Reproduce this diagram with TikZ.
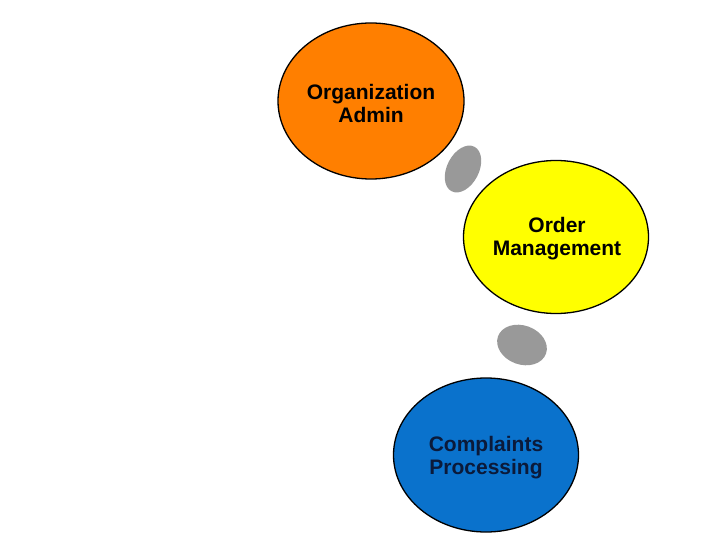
\documentclass[tikz,border=0pt]{standalone}
\usetikzlibrary{shapes.geometric}
\usepackage{fontspec}
\setmainfont{Liberation Sans}
\definecolor{orgorange}{HTML}{FF7F00}
\definecolor{ordyellow}{HTML}{FFFF00}
\definecolor{cmpblue}{HTML}{0A72CC}
\definecolor{dotgray}{HTML}{999999}
\definecolor{navytext}{HTML}{0B1A3A}
\begin{document}
\begin{tikzpicture}[x=1pt,y=-1pt,
  bigcirc/.style={ellipse, draw=black, line width=1.3pt, inner sep=0pt, font=\fontsize{21}{23}\selectfont\bfseries, align=center},
  blob/.style={ellipse, fill=dotgray, draw=none, inner sep=0pt}]
\useasboundingbox (0,0) rectangle (720,540);
\path[fill=white] (0,0) rectangle (720,540);
\node[bigcirc, fill=orgorange, minimum width=186pt, minimum height=156pt, text=black] (org) at (371,101) {};
\node[font=\fontsize{21}{23}\selectfont\bfseries, align=center] (orgt) at (371,103) {Organization\\Admin};
\node[bigcirc, fill=ordyellow, minimum width=185pt, minimum height=153pt, text=black] (ord) at (556,237) {};
\node[font=\fontsize{21}{23}\selectfont\bfseries, align=center] (ordt) at (557,239) {Order\\Management};
\node[bigcirc, fill=cmpblue, minimum width=185pt, minimum height=154pt, text=navytext] (cmp) at (486,455) {};
\node[font=\fontsize{21}{23}\selectfont\bfseries, align=center, text=navytext] (cmpt) at (486,458) {Complaints\\Processing};
\node[blob, minimum width=50pt, minimum height=32pt, rotate=63] (g1) at (463,169) {};
\node[blob, minimum width=51pt, minimum height=39pt, rotate=-20] (g2) at (522,345) {};
\end{tikzpicture}
\end{document}
